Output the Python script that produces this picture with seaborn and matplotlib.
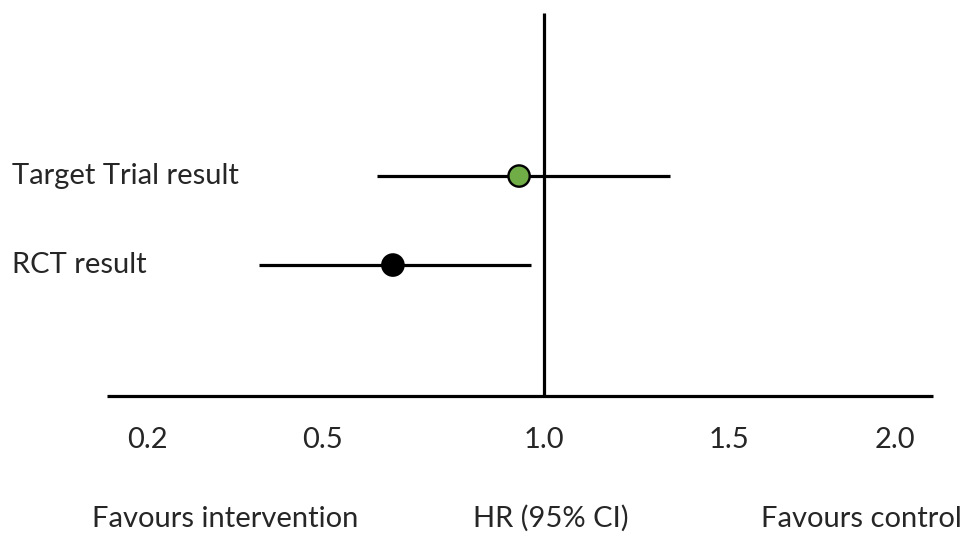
import matplotlib
matplotlib.use("Agg")
import matplotlib.pyplot as plt
import seaborn as sns
import pandas as pd

# ---- data ----
studies = ["Target Trial result", "RCT result"]
hr = [0.94, 0.63]
ci_low = [0.59, 0.30]
ci_high = [1.31, 0.97]
colors = ["#70AD47", "#000000"]

tick_labels = ["0.2", "0.5", "1.0", "1.5", "2.0"]
tick_pos = [0.026, 0.456, 1.0, 1.456, 1.864]
bottom_labels = ["Favours intervention", "HR (95% CI)", "Favours control"]
bottom_pos = [0.218, 1.018, 1.782]

sns.set_theme(style="white")
plt.rcParams["font.family"] = ["Lato", "DejaVu Sans"]

df = pd.DataFrame({"study": studies, "hr": hr, "lo": ci_low, "hi": ci_high,
                   "row": range(len(studies))})

fig = plt.figure(figsize=(9.65, 5.34), dpi=100)
ax = fig.add_axes([0, 0, 1, 1])
ax.set_xlim(-0.3354, 2.0356)
ax.set_ylim(4.022, -1.978)
ax.set_axis_off()

txt = "#262626"
fs = 21

# axes lines
ax.plot([-0.0713, 1.9582], [2.472, 2.472], color="black", lw=2.3, solid_capstyle="butt", zorder=1)
ax.plot([1.0, 1.0], [-1.831, 2.472], color="black", lw=2.3, solid_capstyle="butt", zorder=1)

# CI lines
ax.hlines(df["row"], df["lo"], df["hi"], color="black", lw=2.3, zorder=2)

# points
sns.scatterplot(data=df, x="hr", y="row", hue="study", palette=colors,
                s=235, edgecolor="black", linewidth=1.7, legend=False,
                ax=ax, zorder=3)

# study labels
for r, name in zip(df["row"], df["study"]):
    ax.text(-0.3354 + 12 / 407, r, name, ha="left", va="center", fontsize=fs, color=txt)

# tick labels
for p, lab in zip(tick_pos, tick_labels):
    ax.text(p, 3.056, lab, ha="center", va="baseline", fontsize=fs, color=txt)

for p, lab in zip(bottom_pos, bottom_labels):
    ax.text(p, 3.944, lab, ha="center", va="baseline", fontsize=fs, color=txt)

fig.savefig("out.png", dpi=100, facecolor="white")
